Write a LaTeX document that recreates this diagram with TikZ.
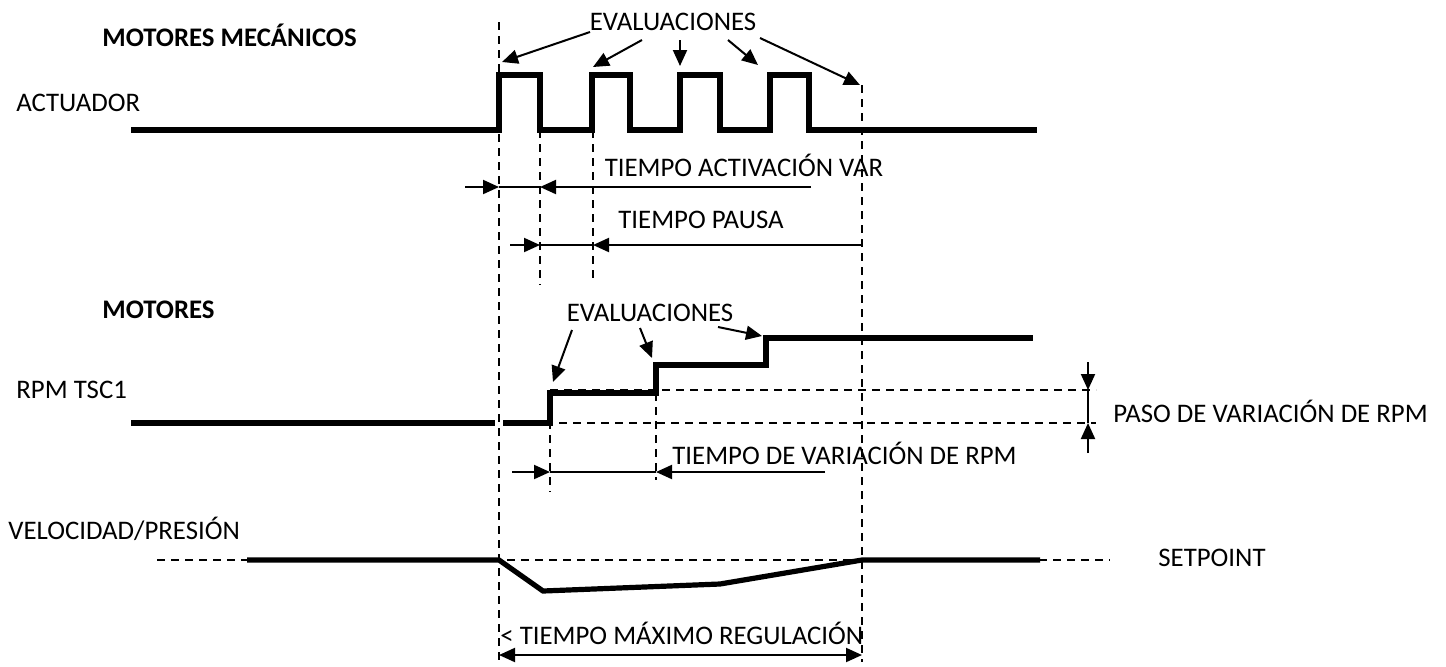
\documentclass[tikz,border=0pt]{standalone}
\usepackage{fontspec}
\setmainfont{Carlito}
\usetikzlibrary{arrows.meta}
\begin{document}
\begin{tikzpicture}[x=0.5pt,y=-0.5pt,
  lbl/.style={inner sep=0pt,anchor=west,font=\fontsize{13.4}{15}\selectfont},
  sig/.style={line width=2.6pt,line join=miter},
  guide/.style={line width=0.75pt,dash pattern=on 4pt off 3pt},
  dim/.style={line width=1pt},
  tipend/.style={-{Triangle[length=8pt,width=7pt]}},
  both/.style={{Triangle[length=8pt,width=7pt]}-{Triangle[length=8pt,width=7pt]}}]
\useasboundingbox (0,0) rectangle (1446,666);

% ---------- texts ----------
\node[lbl,font=\fontsize{13.4}{15}\selectfont\bfseries] (mm) at (102,35) {MOTORES MECÁNICOS};
\node[lbl] (act) at (16,103) {ACTUADOR};
\node[lbl,anchor=center] (ev1) at (673,22) {EVALUACIONES};
\node[lbl,anchor=center] (tav) at (744,165) {TIEMPO ACTIVACIÓN VAR};
\node[lbl,anchor=center] (tp) at (701,220) {TIEMPO PAUSA};
\node[lbl,font=\fontsize{13.4}{15}\selectfont\bfseries] (mot) at (102,310) {MOTORES};
\node[lbl] (rpm) at (16,390) {RPM TSC1};
\node[lbl,anchor=center] (ev2) at (650,313) {EVALUACIONES};
\node[lbl] (tvr) at (672,453) {TIEMPO DE VARIACIÓN DE RPM};
\node[lbl] (pvr) at (1113,411) {PASO DE VARIACIÓN DE RPM};
\node[lbl] (vp) at (8,529) {VELOCIDAD/PRESIÓN};
\node[lbl] (sp) at (1158,558) {SETPOINT};
\node[lbl] (tmr) at (500,633) {< TIEMPO MÁXIMO REGULACIÓN};

% ---------- guides ----------
\draw[guide] (499,22) -- (499,662);
\draw[guide] (862,85) -- (862,662);
\draw[guide] (540,130) -- (540,285);
\draw[guide] (593,130) -- (593,278);
\draw[guide] (550,393) -- (550,492);
\draw[guide] (656,365) -- (656,480);
\draw[guide] (550,390) -- (1096,390);
\draw[guide] (503,423) -- (1096,423);
\draw[guide] (157,560) -- (1110,560);

% ---------- signals ----------
\draw[sig] (131,130) -- (499,130) -- (499,75) -- (540,75) -- (540,130)
  -- (592,130) -- (592,75) -- (630,75) -- (630,130)
  -- (680,130) -- (680,75) -- (720,75) -- (720,130)
  -- (770,130) -- (770,75) -- (809,75) -- (809,130) -- (1037,130);
\draw[sig] (131,423) -- (495,423);
\draw[sig] (503,423) -- (550,423) -- (550,393) -- (656,393) -- (656,365)
  -- (766,365) -- (766,338) -- (1033,338);
\draw[sig] (247,560) -- (499,560) -- (543,591) -- (720,584) -- (862,560) -- (1040,560);

% ---------- evaluation arrows (top) ----------
\coordinate (e1a) at (590,32);  \coordinate (e1b) at (502,62);
\coordinate (e2a) at (642,40);  \coordinate (e2b) at (593,67);
\coordinate (e3a) at (680,40);  \coordinate (e3b) at (680,66);
\coordinate (e4a) at (728,40);  \coordinate (e4b) at (758,65);
\coordinate (e5a) at (760,38);  \coordinate (e5b) at (860,85);
\foreach \i in {1,...,5} {\draw[dim,tipend] (e\i a) -- (e\i b);}

% ---------- evaluation arrows (middle) ----------
\coordinate (f1a) at (572,330); \coordinate (f1b) at (553,382);
\coordinate (f2a) at (640,328); \coordinate (f2b) at (652,358);
\coordinate (f3a) at (718,327); \coordinate (f3b) at (762,336);
\foreach \i in {1,2,3} {\draw[dim,tipend] (f\i a) -- (f\i b);}

% ---------- TIEMPO ACTIVACION VAR ----------
\coordinate (a0) at (465,187); \coordinate (a1) at (499,187);
\coordinate (a2) at (540,187); \coordinate (a3) at (811,187);
\draw[dim,tipend] (a0) -- (a1);
\draw[dim,tipend] (a3) -- (a2);
\draw[dim] (a1) -- (a2);

% ---------- TIEMPO PAUSA ----------
\coordinate (p0) at (510,245); \coordinate (p1) at (540,245);
\coordinate (p2) at (593,245); \coordinate (p3) at (862,245);
\draw[dim,tipend] (p0) -- (p1);
\draw[dim,tipend] (p3) -- (p2);
\draw[dim] (p1) -- (p2);

% ---------- TIEMPO DE VARIACION DE RPM ----------
\coordinate (r0) at (512,472); \coordinate (r1) at (550,472);
\coordinate (r2) at (656,472); \coordinate (r3) at (825,472);
\draw[dim,tipend] (r0) -- (r1);
\draw[dim,tipend] (r3) -- (r2);
\draw[dim] (r1) -- (r2);

% ---------- PASO DE VARIACION DE RPM ----------
\coordinate (s0) at (1088,362); \coordinate (s1) at (1088,390);
\coordinate (s2) at (1088,423); \coordinate (s3) at (1088,453);
\draw[dim,tipend] (s0) -- (s1);
\draw[dim,tipend] (s3) -- (s2);
\draw[dim] (s1) -- (s2);

% ---------- TIEMPO MAXIMO REGULACION ----------
\coordinate (m0) at (499,655); \coordinate (m1) at (862,655);
\draw[dim,both] (m0) -- (m1);
\end{tikzpicture}
\end{document}
